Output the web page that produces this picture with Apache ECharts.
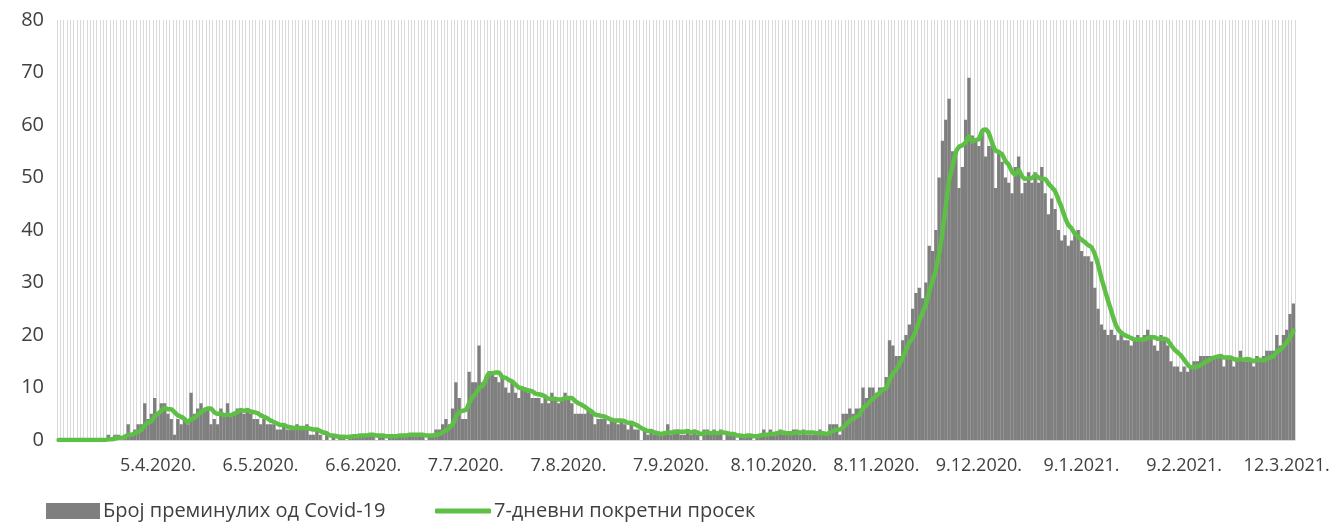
<!DOCTYPE html>
<html>
<head>
<meta charset="utf-8">
<script src="https://cdn.jsdelivr.net/npm/echarts@6/dist/echarts.min.js"></script>
<style>
html,body{margin:0;padding:0;background:#fff;}
#chart{width:1340px;height:524px;}
</style>
</head>
<body>
<div id="chart"></div>
<script>
// Daily deaths, starting 6.3.2020 (one value per day)
const mar2020 = [0,0,0,0,0,0,0,0,0,0,0,0,0,0,0,1,0,1,1,0,1,3,1,2,3,3];
const apr2020 = [7,4,5,8,5,7,7,5,4,1,4,3,4,3,9,5,6,7,6,6,3,4,3,6,5,7,5,5,6,6];
const may2020 = [5,6,5,4,4,3,4,3,3,3,2,2,3,2,2,2,3,2,2,3,1,1,2,1,0,1,0,1,0,1,1];
const jun2020 = [0,1,1,1,1,1,1,1,1,0,1,1,0,1,1,1,1,1,1,1,1,1,1,1,0,1,1,2,2,3];
const jul2020 = [4,3,6,11,8,4,4,13,11,11,18,11,12,13,13,12,11,12,10,9,11,9,8,10,10,9,8,8,8,7,8];
const aug2020 = [7,9,8,7,8,9,8,7,5,5,5,5,6,5,3,4,4,4,3,4,4,3,4,3,2,3,2,2,0,2,1];
const sep2020 = [2,1,1,1,1,3,1,2,2,1,1,2,1,2,1,0,2,2,1,2,1,2,0,1,1,1,0,1,1,1];
const oct2020 = [1,0,1,1,2,1,2,1,1,2,1,1,1,2,2,1,2,1,1,1,1,2,1,1,3,3,3,1,5,5,6];
const nov2020 = [5,6,6,10,8,10,10,9,10,10,12,19,18,16,16,19,20,22,25,28,29,27,30,37,36,40,50,57,61,65];
const dec2020 = [55,55,48,52,61,69,58,57,56,59,54,56,56,48,55,53,50,49,47,52,54,47,49,51,49,51,49,52,47,43,46];
const jan2021 = [44,40,38,39,37,38,39,40,36,35,35,34,29,25,22,21,20,21,20,19,20,19,19,18,19,20,19,20,21,20,18];
const feb2021 = [17,20,19,18,15,14,14,13,14,13,14,15,15,16,16,16,16,16,16,16,14,16,16,14,15,17,15,15];
const mar2021 = [15,14,16,15,16,17,17,17,20,18,20,21,24,26];

const tickLabels = ['5.4.2020.','6.5.2020.','6.6.2020.','7.7.2020.','7.8.2020.','7.9.2020.',
  '8.10.2020.','8.11.2020.','9.12.2020.','9.1.2021.','9.2.2021.','12.3.2021.'];

const seriesNames = ['Број преминулих од Covid-19', '7-дневни покретни просек'];

const deaths = [].concat(mar2020, apr2020, may2020, jun2020, jul2020, aug2020,
  sep2020, oct2020, nov2020, dec2020, jan2021, feb2021, mar2021);

// Category dates (one per day from 6.3.2020)
const categories = [];
{
  const d = new Date(2020, 2, 6);
  for (let i = 0; i < deaths.length; i++) {
    categories.push(d.getDate() + '.' + (d.getMonth() + 1) + '.' + d.getFullYear() + '.');
    d.setDate(d.getDate() + 1);
  }
}

// 7-day trailing moving average of the daily values (as in the original chart)
const movingAvg = deaths.map((v, i) => {
  const s = Math.max(0, i - 6);
  const w = deaths.slice(s, i + 1);
  return +(w.reduce((a, b) => a + b, 0) / w.length).toFixed(2);
});

const FONT = "'Open Sans', 'Noto Sans', sans-serif";
const TXT = '#404040';
const GREEN = '#5ebf46';
const chart = echarts.init(document.getElementById('chart'), null, {renderer: 'canvas'});
chart.setOption({
  animation: false,
  backgroundColor: '#ffffff',
  grid: {left: 57, right: 45, top: 20, bottom: 84, containLabel: false},
  legend: [
    {
      left: 41, top: 496,
      itemWidth: 54, itemHeight: 16, itemGap: 4,
      icon: 'rect',
      textStyle: {fontFamily: FONT, fontSize: 20, color: TXT, padding: [0, 0, 0, -2]},
      data: [seriesNames[0]]
    },
    {
      left: 430, top: 496,
      itemWidth: 56, itemHeight: 5, itemGap: 4,
      icon: 'roundRect',
      textStyle: {fontFamily: FONT, fontSize: 20, color: TXT, padding: [0, 0, 0, -2]},
      data: [seriesNames[1]]
    }
  ],
  xAxis: {
    type: 'category',
    data: categories,
    boundaryGap: true,
    axisLine: {show: true, lineStyle: {color: '#d9d9d9', width: 1}},
    axisTick: {show: false},
    splitLine: {show: true, interval: 0, lineStyle: {color: '#d9d9d9', width: 1}},
    axisLabel: {
      interval: (idx, val) => tickLabels.indexOf(val) >= 0,
      margin: 17,
      fontFamily: FONT, fontSize: 18, color: TXT,
      hideOverlap: false
    }
  },
  yAxis: {
    type: 'value',
    min: 0, max: 80, interval: 10,
    axisLine: {show: false},
    axisTick: {show: false},
    splitLine: {show: false},
    axisLabel: {margin: 13, fontFamily: FONT, fontSize: 20, color: TXT}
  },
  series: [
    {
      name: seriesNames[0],
      type: 'bar',
      data: deaths,
      barCategoryGap: '0%',
      itemStyle: {color: '#7f7f7f'},
      emphasis: {disabled: true}
    },
    {
      name: seriesNames[1],
      type: 'line',
      data: movingAvg,
      symbol: 'none',
      smooth: 0.25,
      lineStyle: {color: GREEN, width: 4.5, cap: 'round', join: 'round'},
      itemStyle: {color: GREEN},
      z: 3
    }
  ]
});
</script>
</body>
</html>
